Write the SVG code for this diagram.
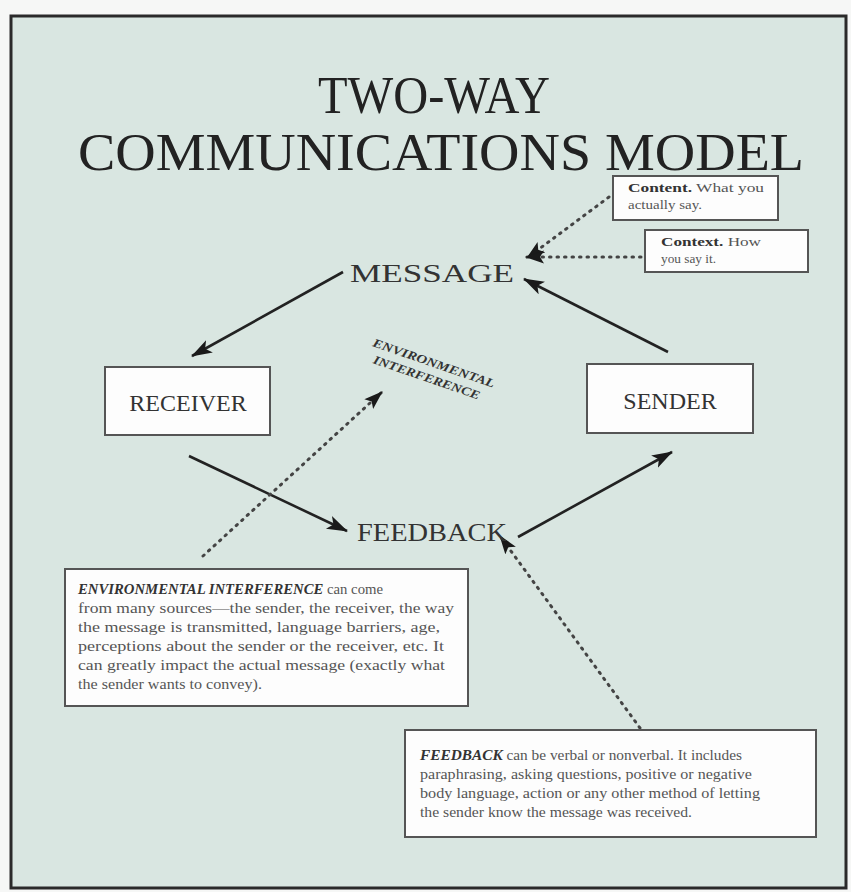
<svg xmlns="http://www.w3.org/2000/svg" width="851" height="892" viewBox="0 0 851 892">
<defs>
<style>
.title{font-family:"Liberation Serif",serif;font-size:52px;fill:#222;text-anchor:middle}
.node{font-family:"Liberation Serif",serif;font-size:24px;fill:#333;text-anchor:middle}
.box{fill:#fdfdfd;stroke:#555;stroke-width:2}
.body{font-family:"Liberation Serif",serif;font-size:14.5px;fill:#555}
.small{font-family:"Liberation Serif",serif;font-size:12.5px;fill:#555}
.em{font-weight:bold;font-style:italic;fill:#333}
.b{font-weight:bold;fill:#333}
.arrow{stroke:#222;stroke-width:2.6;fill:none}
.dot{stroke:#444;stroke-width:3;fill:none;stroke-dasharray:1.5 6;stroke-linecap:round}
</style>
<marker id="ah" markerUnits="userSpaceOnUse" markerWidth="24" markerHeight="16" refX="20" refY="7" orient="auto">
<path d="M0,0 L21,7 L0,14 L5,7 z" fill="#1a1a1a"/>
</marker>
<marker id="ahd" markerUnits="userSpaceOnUse" markerWidth="22" markerHeight="16" refX="18" refY="6.5" orient="auto">
<path d="M0,0 L19,6.5 L0,13 L4,6.5 z" fill="#1a1a1a"/>
</marker>
</defs>
<rect x="0" y="0" width="851" height="892" fill="#f6f7f6"/>
<rect x="11" y="16" width="835" height="872" fill="#d9e6e1" stroke="#2a2a2a" stroke-width="3"/>

<g id="title">
<text class="title" x="434" y="113" textLength="232" lengthAdjust="spacingAndGlyphs">TWO-WAY</text>
<text class="title" x="441" y="170" textLength="726" lengthAdjust="spacingAndGlyphs">COMMUNICATIONS MODEL</text>
</g>

<g id="connectors">
<line class="arrow" x1="343" y1="272" x2="192" y2="356" marker-end="url(#ah)"/>
<line class="arrow" x1="668" y1="352" x2="524" y2="279" marker-end="url(#ah)"/>
<line class="arrow" x1="189" y1="456" x2="347" y2="531" marker-end="url(#ah)"/>
<line class="arrow" x1="518" y1="537" x2="672" y2="452" marker-end="url(#ah)"/>
<line class="dot" x1="609" y1="197" x2="527" y2="258" marker-end="url(#ahd)"/>
<line class="dot" x1="641" y1="257" x2="526" y2="257" marker-end="url(#ahd)"/>
<line class="dot" x1="203" y1="556" x2="382" y2="392" marker-end="url(#ahd)"/>
<line class="dot" x1="640" y1="728" x2="500" y2="536" marker-end="url(#ahd)"/>
</g>

<g id="message">
<text class="node" style="font-size:26px" x="432" y="282" textLength="164" lengthAdjust="spacingAndGlyphs">MESSAGE</text>
</g>

<g id="content">
<rect class="box" x="613" y="176" width="165" height="44"/>
<text class="small" x="628" y="192" textLength="136" lengthAdjust="spacingAndGlyphs"><tspan class="b">Content.</tspan> What you</text>
<text class="small" x="628" y="209" textLength="74" lengthAdjust="spacingAndGlyphs">actually say.</text>
</g>

<g id="context">
<rect class="box" x="645" y="230" width="163" height="42"/>
<text class="small" x="661" y="246" textLength="100" lengthAdjust="spacingAndGlyphs"><tspan class="b">Context.</tspan> How</text>
<text class="small" x="661" y="263" textLength="55" lengthAdjust="spacingAndGlyphs">you say it.</text>
</g>

<g id="receiver">
<rect class="box" x="105" y="367" width="165" height="68"/>
<text class="node" x="188" y="411">RECEIVER</text>
</g>

<g id="sender">
<rect class="box" x="587" y="364" width="166" height="69"/>
<text class="node" x="670" y="409">SENDER</text>
</g>

<g id="feedback">
<text class="node" style="font-size:26px" x="432" y="541" textLength="150" lengthAdjust="spacingAndGlyphs">FEEDBACK</text>
</g>

<g id="env-label" transform="translate(372,346) rotate(19)">
<text class="em" style="font-family:'Liberation Serif',serif;font-size:12px" x="0" y="0" textLength="128" lengthAdjust="spacingAndGlyphs">ENVIRONMENTAL</text>
<text class="em" style="font-family:'Liberation Serif',serif;font-size:12px" x="6" y="16" textLength="112" lengthAdjust="spacingAndGlyphs">INTERFERENCE</text>
</g>

<g id="env-note">
<rect class="box" x="65" y="569" width="403" height="137"/>
<text class="body" x="78" y="594" textLength="305" lengthAdjust="spacingAndGlyphs"><tspan class="em">ENVIRONMENTAL INTERFERENCE</tspan> can come</text>
<text class="body" x="78" y="613" textLength="376" lengthAdjust="spacingAndGlyphs">from many sources—the sender, the receiver, the way</text>
<text class="body" x="78" y="632" textLength="362" lengthAdjust="spacingAndGlyphs">the message is transmitted, language barriers, age,</text>
<text class="body" x="78" y="651" textLength="366" lengthAdjust="spacingAndGlyphs">perceptions about the sender or the receiver, etc. It</text>
<text class="body" x="78" y="670" textLength="367" lengthAdjust="spacingAndGlyphs">can greatly impact the actual message (exactly what</text>
<text class="body" x="78" y="689" textLength="184" lengthAdjust="spacingAndGlyphs">the sender wants to convey).</text>
</g>

<g id="feedback-note">
<rect class="box" x="405" y="730" width="411" height="107"/>
<text class="body" x="420" y="760" textLength="322" lengthAdjust="spacingAndGlyphs"><tspan class="em">FEEDBACK</tspan> can be verbal or nonverbal. It includes</text>
<text class="body" x="420" y="779" textLength="332" lengthAdjust="spacingAndGlyphs">paraphrasing, asking questions, positive or negative</text>
<text class="body" x="420" y="798" textLength="340" lengthAdjust="spacingAndGlyphs">body language, action or any other method of letting</text>
<text class="body" x="420" y="817" textLength="272" lengthAdjust="spacingAndGlyphs">the sender know the message was received.</text>
</g>
</svg>
